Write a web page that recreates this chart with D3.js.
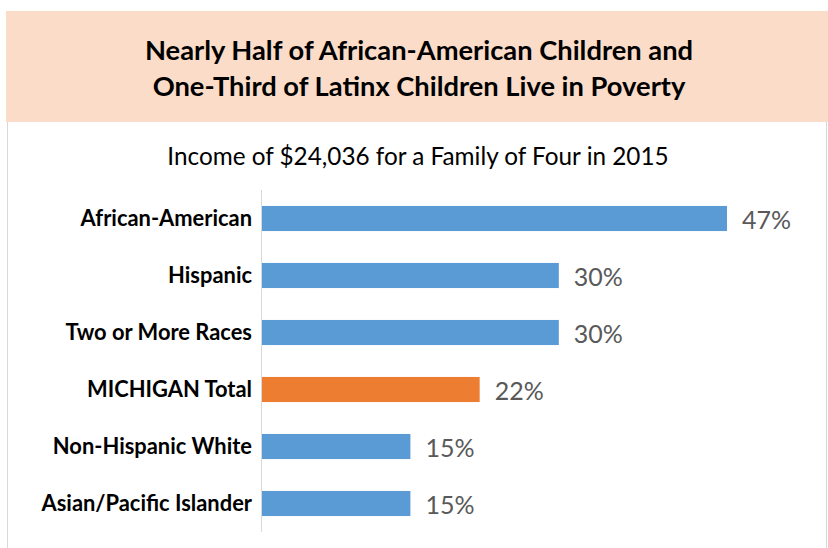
<!DOCTYPE html>
<html>
<head>
<meta charset="utf-8">
<script src="https://cdn.jsdelivr.net/npm/d3@7"></script>
<style>
  body { margin: 0; background: #fff; }
  svg { display: block; font-family: Lato, "Open Sans", sans-serif; }
</style>
</head>
<body>
<svg id="chart" width="828" height="548"></svg>
<script>
var categories = ['African-American', 'Hispanic', 'Two or More Races', 'MICHIGAN Total', 'Non-Hispanic White', 'Asian/Pacific Islander'];
var values = [47, 30, 30, 22, 15, 15];
var highlight = 'MICHIGAN Total';
var titleLines = ['Nearly Half of African-American Children and', 'One-Third of Latinx Children Live in Poverty'];
var subtitle = 'Income of $24,036 for a Family of Four in 2015';

var svg = d3.select('#chart');

// frame + header
svg.append('rect').attr('x', 7.5).attr('y', 11.5).attr('width', 819).attr('height', 560)
    .attr('fill', 'none').attr('stroke', '#d9d9d9');
svg.append('rect').attr('x', 6).attr('y', 11).attr('width', 822).attr('height', 111).attr('fill', '#fbdcc8');

svg.selectAll('.title').data(titleLines).enter().append('text')
    .attr('x', 419).attr('y', function(d, i){ return 60 + i*36; })
    .attr('text-anchor', 'middle').attr('font-size', 27.3).attr('font-weight', 'bold').attr('fill', '#000')
    .text(function(d){ return d; });

svg.append('text').attr('x', 418).attr('y', 165).attr('text-anchor', 'middle')
    .attr('font-size', 24.3).attr('fill', '#000').text(subtitle);

var x = d3.scaleLinear().domain([0, 47]).range([262, 727]);
var y = d3.scaleBand().domain(categories).range([190, 532]).paddingInner(0.56).paddingOuter(0.28);

svg.selectAll('.bar').data(categories).enter().append('rect')
    .attr('x', x(0)).attr('y', function(d){ return y(d); })
    .attr('width', function(d, i){ return x(values[i]) - x(0); })
    .attr('height', y.bandwidth())
    .attr('fill', function(d){ return d == highlight ? '#ed7d31' : '#5b9bd5'; });

svg.append('line').attr('x1', 261.5).attr('x2', 261.5).attr('y1', 190).attr('y2', 532)
    .attr('stroke', '#d9d9d9');

svg.selectAll('.cat').data(categories).enter().append('text')
    .attr('x', 252).attr('y', function(d){ return y(d) + y.bandwidth()/2; })
    .attr('dy', '0.35em').attr('text-anchor', 'end')
    .attr('font-size', 21.9).attr('font-weight', 'bold').attr('fill', '#000')
    .text(function(d){ return d; });

svg.selectAll('.val').data(values).enter().append('text')
    .attr('x', function(d){ return x(d) + 15; })
    .attr('y', function(d, i){ return y(categories[i]) + y.bandwidth()/2 + 2; })
    .attr('dy', '0.35em').attr('font-size', 25).attr('fill', '#595959')
    .text(function(d){ return d + '%'; });
</script>
</body>
</html>
